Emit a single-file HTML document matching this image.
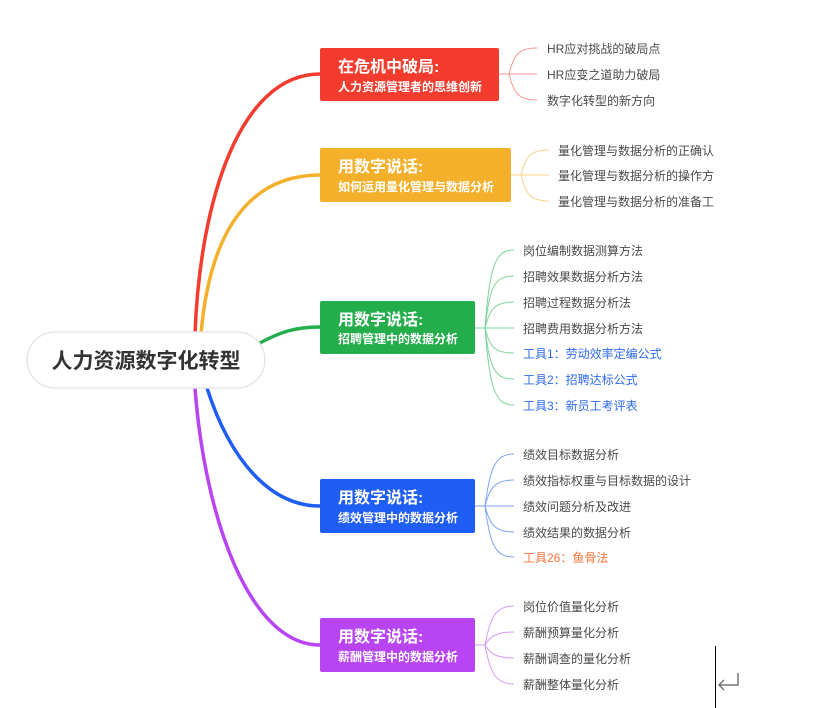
<!DOCTYPE html>
<html><head><meta charset="utf-8"><style>
html,body{margin:0;padding:0;background:#fff;}
svg{display:block;font-family:"Liberation Sans","Noto Sans CJK SC",sans-serif;}
.l{font-size:12px;fill:#4a4a4a;}
.t{font-size:16px;font-weight:bold;fill:#fff;}
.s{font-size:12px;font-weight:bold;fill:#fff;}
</style></head><body>
<svg width="827" height="708" viewBox="0 0 827 708">
<path d="M195,334 C200,200 240,74 320,74" fill="none" stroke="#f33c2d" stroke-width="3.5"/>
<path d="M201,334 C210,230 250,175 320,175" fill="none" stroke="#f5b02b" stroke-width="3.5"/>
<path d="M258,344 C280,332 295,327 320,327" fill="none" stroke="#24ad4b" stroke-width="3.5"/>
<path d="M207,388 C230,460 270,506 320,506" fill="none" stroke="#1f5ef5" stroke-width="3.5"/>
<path d="M195,388 C205,520 250,645 320,645" fill="none" stroke="#b844f4" stroke-width="3.5"/>
<rect x="27" y="332" width="238" height="56" rx="28" fill="#fff" stroke="#e6e6e6" stroke-width="1.5"/>
<text x="146" y="368" text-anchor="middle" font-size="21" font-weight="bold" fill="#333">人力资源数字化转型</text>
<rect x="320" y="48" width="179" height="53" rx="2" fill="#f33c2d"/>
<text class="t" x="338" y="72">在危机中破局:</text><text class="s" x="338" y="91">人力资源管理者的思维创新</text>
<rect x="320" y="148" width="191" height="54" rx="2" fill="#f5b02b"/>
<text class="t" x="338" y="172">用数字说话:</text><text class="s" x="338" y="191">如何运用量化管理与数据分析</text>
<rect x="320" y="301" width="155" height="53" rx="2" fill="#24ad4b"/>
<text class="t" x="338" y="325">用数字说话:</text><text class="s" x="338" y="343">招聘管理中的数据分析</text>
<rect x="320" y="479" width="155" height="54" rx="2" fill="#1f5ef5"/>
<text class="t" x="338" y="503">用数字说话:</text><text class="s" x="338" y="522">绩效管理中的数据分析</text>
<rect x="320" y="618" width="155" height="54" rx="2" fill="#b844f4"/>
<text class="t" x="338" y="642">用数字说话:</text><text class="s" x="338" y="661">薪酬管理中的数据分析</text>
<g fill="none" stroke-width="1">
<g stroke="#f7998f">
<path d="M499,74 H509"/><path d="M509,74 C514,55 518,48 537,48"/><path d="M509,74 H537"/><path d="M509,74 C514,93 518,100 537,100"/>
</g>
<g stroke="#f8d48a">
<path d="M511,175 H521"/><path d="M521,175 C526,156 530,150 549,150"/><path d="M521,175 H549"/><path d="M521,175 C526,194 530,201 549,201"/>
</g>
<g stroke="#7fd39a">
<path d="M475,328 H485"/>
<path d="M485,328 C490,265 495,250 514,250"/><path d="M485,328 C490,285 495,276 514,276"/><path d="M485,328 C490,308 495,302 514,302"/><path d="M485,328 H514"/>
<path d="M485,328 C490,348 495,353 514,353"/><path d="M485,328 C490,370 495,379 514,379"/><path d="M485,328 C490,390 495,405 514,405"/>
</g>
<g stroke="#7fa3f7">
<path d="M475,506 H485"/>
<path d="M485,506 C490,468 495,454 514,454"/><path d="M485,506 C490,487 495,480 514,480"/><path d="M485,506 H514"/><path d="M485,506 C490,525 495,532 514,532"/><path d="M485,506 C490,545 495,557 514,557"/>
</g>
<g stroke="#d79bf8">
<path d="M475,645 H485"/>
<path d="M485,645 C490,618 495,606 514,606"/><path d="M485,645 C490,637 495,632 514,632"/><path d="M485,645 C490,653 495,658 514,658"/><path d="M485,645 C490,672 495,684 514,684"/>
</g>
</g>
<text class="l" x="547" y="53">HR应对挑战的破局点</text>
<text class="l" x="547" y="79">HR应变之道助力破局</text>
<text class="l" x="547" y="105">数字化转型的新方向</text>
<svg x="0" y="0" width="714" height="708" overflow="hidden">
<text class="l" x="558" y="155">量化管理与数据分析的正确认识</text>
<text class="l" x="558" y="180">量化管理与数据分析的操作方法</text>
<text class="l" x="558" y="206">量化管理与数据分析的准备工作</text>
</svg>
<text class="l" x="523" y="255">岗位编制数据测算方法</text>
<text class="l" x="523" y="281">招聘效果数据分析方法</text>
<text class="l" x="523" y="307">招聘过程数据分析法</text>
<text class="l" x="523" y="333">招聘费用数据分析方法</text>
<text class="l" x="523" y="358" style="fill:#2f6bef">工具1：劳动效率定编公式</text>
<text class="l" x="523" y="384" style="fill:#2f6bef">工具2：招聘达标公式</text>
<text class="l" x="523" y="410" style="fill:#2f6bef">工具3：新员工考评表</text>
<text class="l" x="523" y="459">绩效目标数据分析</text>
<text class="l" x="523" y="485">绩效指标权重与目标数据的设计</text>
<text class="l" x="523" y="511">绩效问题分析及改进</text>
<text class="l" x="523" y="537">绩效结果的数据分析</text>
<text class="l" x="523" y="562" style="fill:#f5733a">工具26：鱼骨法</text>
<text class="l" x="523" y="611">岗位价值量化分析</text>
<text class="l" x="523" y="637">薪酬预算量化分析</text>
<text class="l" x="523" y="663">薪酬调查的量化分析</text>
<text class="l" x="523" y="689">薪酬整体量化分析</text>
<line x1="715.5" y1="646" x2="715.5" y2="708" stroke="#000" stroke-width="1"/>
<path d="M738,673 V685 H719 M724,680 L719,685 L724,690" fill="none" stroke="#777" stroke-width="1.5"/>
</svg>
</body></html>
